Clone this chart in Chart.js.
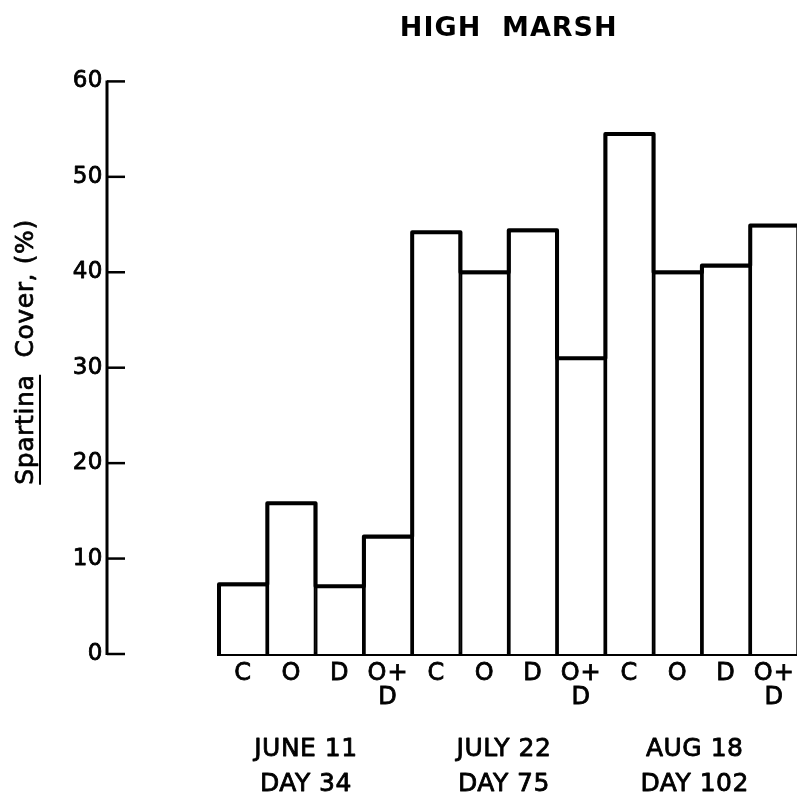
<!DOCTYPE html>
<html>
<head>
<meta charset="utf-8">
<script src="https://cdn.jsdelivr.net/npm/chart.js@4"></script>
<style>
  html, body { margin: 0; padding: 0; background: #fff; overflow: hidden; }
  canvas { display: block; }
</style>
</head>
<body>
<canvas id="chart" width="802" height="806"></canvas>
<script>
// ── Data ──────────────────────────────────────────────
const title      = "HIGH  MARSH";
const treatments = ["C", "O", "D", ["O+", "D"], "C", "O", "D", ["O+", "D"], "C", "O", "D", ["O+", "D"]];
const cover      = [7.3, 15.8, 7.1, 12.3, 44.2, 40.0, 44.4, 31.0, 54.5, 40.0, 40.7, 44.9];
const dates      = [["JUNE 11", "DAY 34"], ["JULY 22", "DAY 75"], ["AUG 18", "DAY 102"]];
const yTicks     = [0, 10, 20, 30, 40, 50, 60];

const FONT = "'DejaVu Sans', sans-serif";

// lettering in the original is a bit heavier, so fill + thin stroke
function ink(ctx, txt, px, py) {
  ctx.fillText(txt, px, py);
  ctx.strokeText(txt, px, py);
}

// ── Hand drawn bits: envelope, detached y axis, dates ─
const frame = {
  id: "frame",
  beforeDraw(c) { c.ctx.letterSpacing = "1px"; },
  afterDatasetsDraw(c) {
    const ctx  = c.ctx;
    const x    = c.scales.x, y = c.scales.y;
    const bars = c.getDatasetMeta(0).data;
    ctx.save();
    ctx.strokeStyle = "#000";
    ctx.fillStyle   = "#000";
    ctx.lineJoin    = "round";

    // thick outline round the bar tops
    ctx.lineWidth = 4;
    ctx.beginPath();
    bars.forEach((b, i) => {
      const l = b.x - b.width / 2, r = b.x + b.width / 2;
      if (i === 0) ctx.moveTo(l, b.base);
      ctx.lineTo(l, b.y);
      ctx.lineTo(r, b.y);
      if (i === bars.length - 1) ctx.lineTo(r, b.base);
    });
    ctx.stroke();

    // y axis, sits apart from the bars
    const ax = 107;
    ctx.lineWidth = 3;
    ctx.beginPath();
    ctx.moveTo(ax, y.getPixelForValue(60) - 1);
    ctx.lineTo(ax, y.getPixelForValue(0) + 1);
    ctx.stroke();
    ctx.font = "23px " + FONT;
    ctx.letterSpacing = "0.5px";
    ctx.textAlign = "right";
    ctx.textBaseline = "middle";
    yTicks.forEach(v => {
      const py = y.getPixelForValue(v);
      ctx.lineWidth = 2.5;
      ctx.beginPath();
      ctx.moveTo(ax, py);
      ctx.lineTo(ax + 18, py);
      ctx.stroke();
      ctx.lineWidth = 0.8;
      ink(ctx, String(v), ax - 4, py);
    });

    // y title with underlined genus
    const part1 = "Spartina", part2 = "  Cover, (%)";
    ctx.font = "25px " + FONT;
    ctx.letterSpacing = "0.6px";
    const w1 = ctx.measureText(part1).width;
    const w  = w1 + ctx.measureText(part2).width;
    ctx.translate(33, 352);
    ctx.rotate(-Math.PI / 2);
    ctx.textAlign = "left";
    ctx.textBaseline = "alphabetic";
    ctx.lineWidth = 0.7;
    ink(ctx, part1 + part2, -w / 2, 0);
    ctx.lineWidth = 2;
    ctx.beginPath();
    ctx.moveTo(-w / 2, 7);
    ctx.lineTo(-w / 2 + w1, 7);
    ctx.stroke();
    ctx.setTransform(1, 0, 0, 1, 0, 0);

    // sampling dates under each group
    ctx.font = "25px " + FONT;
    ctx.letterSpacing = "0.5px";
    ctx.textAlign = "center";
    ctx.textBaseline = "middle";
    ctx.lineWidth = 0.8;
    const at = [1.3, 5.4, 9.35];
    const base = y.getPixelForValue(0);
    dates.forEach((d, i) => {
      const px = x.getPixelForValue(at[i]);
      ink(ctx, d[0], px, base + 95);
      ink(ctx, d[1], px, base + 130);
    });
    ctx.restore();
  },
  afterDraw(c) { c.ctx.letterSpacing = "0px"; }
};

// ── Chart ─────────────────────────────────────────────
new Chart(document.getElementById("chart"), {
  type: "bar",
  data: {
    labels: treatments,
    datasets: [{
      data: cover,
      backgroundColor: "#fff",
      borderColor: "#000",
      borderWidth: 2.2,
      barPercentage: 1,
      categoryPercentage: 1
    }]
  },
  options: {
    responsive: false,
    animation: false,
    layout: { padding: { left: 219, right: 2, top: 13, bottom: 0 } },
    plugins: {
      legend:  { display: false },
      tooltip: { enabled: false },
      title: {
        display: true,
        text: title,
        fullSize: false,
        color: "#000",
        font: { family: FONT, size: 27, weight: "bold", lineHeight: 1.2 },
        padding: { top: 0, bottom: 36 }
      }
    },
    scales: {
      x: {
        grid:   { display: false, drawTicks: false },
        border: { display: true, color: "#000", width: 4 },
        ticks: {
          color: "#000",
          font: { family: FONT, size: 24, lineHeight: 1.0 },
          textStrokeColor: "#000",
          textStrokeWidth: 0.8,
          padding: 8,
          maxRotation: 0,
          autoSkip: false
        },
        afterFit: s => { s.height = 152; }
      },
      y: { display: false, min: 0, max: 60 }
    }
  },
  plugins: [frame]
});
</script>
</body>
</html>
